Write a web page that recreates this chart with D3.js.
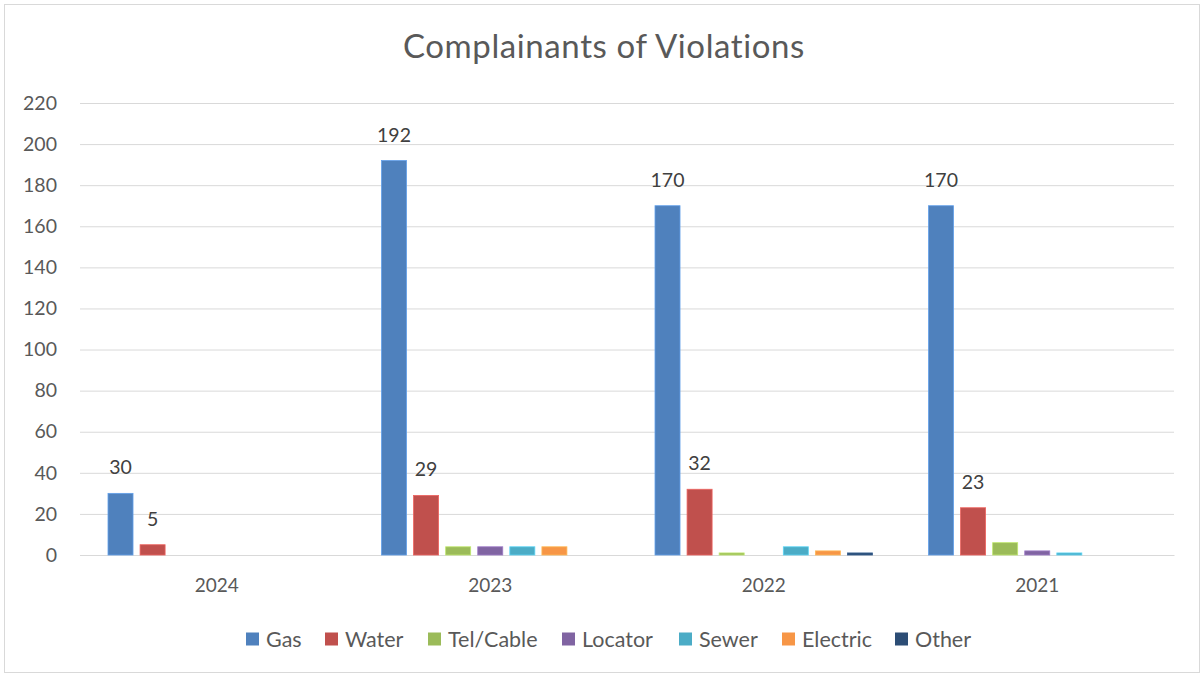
<!DOCTYPE html>
<html><head><meta charset="utf-8">
<script src="https://cdn.jsdelivr.net/npm/d3@7"></script>
<style>body{margin:0;background:#fff;} svg{display:block;font-family:Lato,"Open Sans",sans-serif;}</style>
</head><body>
<script>
const categories = ["2024","2023","2022","2021"];
const seriesNames = ["Gas","Water","Tel/Cable","Locator","Sewer","Electric","Other"];
const gas      = [30,192,170,170];
const water    = [5,29,32,23];
const telCable = [0,4,1,6];
const locator  = [0,4,0,2];
const sewer    = [0,4,4,1];
const electric = [0,4,2,0];
const other    = [0,0,1,0];
const yTicks = [0,20,40,60,80,100,120,140,160,180,200,220];
const colors = ["#4f81bd","#c0504d","#9bbb59","#8064a2","#4bacc6","#f79646","#2c4d75"];
const labeled = ["Gas","Water"];
const seriesValues = [gas,water,telCable,locator,sewer,electric,other];

const W=1204,H=677;
const svg=d3.select("body").append("svg").attr("width",W).attr("height",H);
svg.append("rect").attr("x",4.5).attr("y",4.5).attr("width",W-9).attr("height",H-9)
  .attr("fill","#fff").attr("stroke","#d9d9d9");

const m={l:80,r:1174,t:103,b:555};
const x0=d3.scaleBand().domain(categories).range([m.l,m.r]).paddingInner(0).paddingOuter(0);
const x1=d3.scaleBand().domain(seriesNames).range([28,x0.bandwidth()-28]).paddingInner(0.22).paddingOuter(0);
const y=d3.scaleLinear().domain([0,220]).range([m.b,m.t]);

// grid
svg.append("g").selectAll("line").data(yTicks).join("line")
  .attr("x1",m.l).attr("x2",m.r).attr("y1",d=>y(d)+0.5).attr("y2",d=>y(d)+0.5)
  .attr("stroke","#d9d9d9").attr("stroke-width",1);

// y axis
const ya=svg.append("g").attr("transform",`translate(${m.l},0)`)
  .call(d3.axisLeft(y).tickValues(yTicks).tickSize(0).tickPadding(23));
ya.select(".domain").remove();
ya.selectAll("text").attr("font-size",19.5).attr("fill","#595959").attr("font-family","Lato,'Open Sans',sans-serif");

// x axis
const xa=svg.append("g").attr("transform",`translate(0,${m.b})`)
  .call(d3.axisBottom(x0).tickSize(0).tickPadding(24));
xa.select(".domain").attr("stroke","#d9d9d9");
xa.selectAll("text").attr("font-size",19).attr("fill","#595959").attr("font-family","Lato,'Open Sans',sans-serif");

// bars
const data=[];
categories.forEach((c,i)=>seriesNames.forEach((s,j)=>data.push({c,s,v:seriesValues[j][i],col:colors[j]})));
svg.append("g").selectAll("rect").data(data.filter(d=>d.v>0)).join("rect")
  .attr("x",d=>x0(d.c)+x1(d.s)).attr("width",x1.bandwidth())
  .attr("y",d=>y(d.v)).attr("height",d=>y(0)-y(d.v))
  .attr("fill",d=>d.col).attr("stroke",d=>d3.color(d.col).brighter(0.6)).attr("stroke-width",0.8);

// labels
svg.append("g").selectAll("text").data(data.filter(d=>labeled.includes(d.s))).join("text")
  .attr("x",d=>x0(d.c)+x1(d.s)+x1.bandwidth()/2)
  .attr("y",d=>y(d.v)-19)
  .attr("text-anchor","middle")
  .attr("font-size",19.5).attr("fill","#404040").text(d=>d.v);

// title
svg.append("text").attr("x",604).attr("y",58).attr("text-anchor","middle")
  .attr("font-size",33).attr("letter-spacing",0.6).attr("fill","#595959").text("Complainants of Violations");

// legend
const legX=[246,325,428,562,679,782,895];
const lg=svg.append("g").selectAll("g").data(seriesNames).join("g")
  .attr("transform",(d,i)=>`translate(${legX[i]},639)`);
lg.append("rect").attr("x",0).attr("y",-6.5).attr("width",13).attr("height",13).attr("fill",(d,i)=>colors[i]);
lg.append("text").attr("x",20).attr("y",7.5).attr("font-size",21.5).attr("fill","#595959").text(d=>d);
</script>
</body></html>
